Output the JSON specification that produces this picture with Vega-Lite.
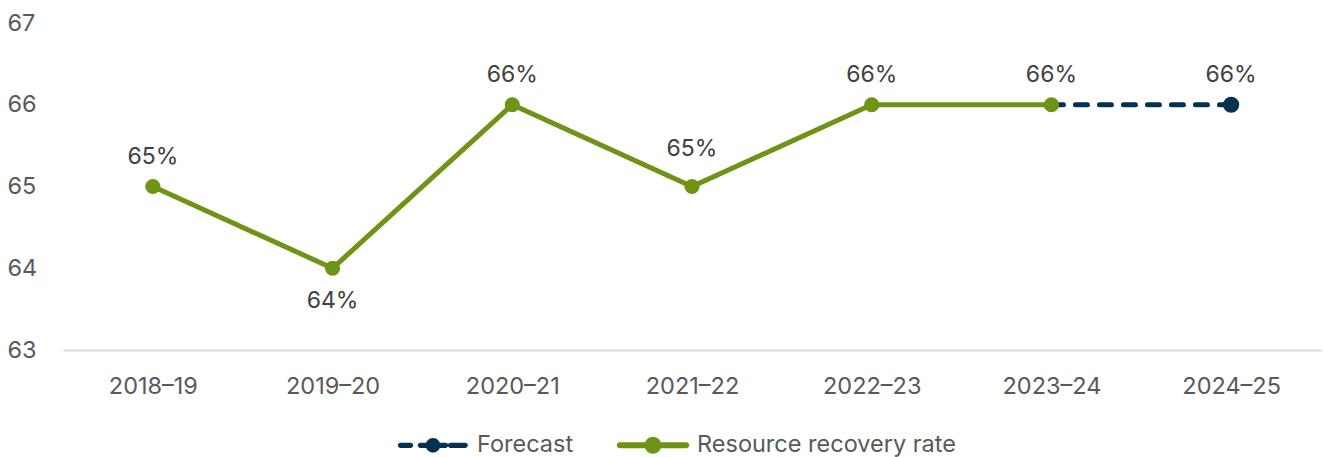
{
  "$schema": "https://vega.github.io/schema/vega-lite/v6.json",
  "width": 1258,
  "height": 327,
  "autosize": {"type": "none"},
  "padding": {"left": 63, "top": 23, "right": 2, "bottom": 107},
  "config": {
    "view": {"stroke": null},
    "font": "Inter",
    "axis": {"labelFont": "Inter", "labelColor": "#595959", "labelFontSize": 23.5}
  },
  "data": {
    "values": [
      {"year": "2018–19", "value": 65, "series": "Resource recovery rate", "label": "65%"},
      {"year": "2019–20", "value": 64, "series": "Resource recovery rate", "label": "64%"},
      {"year": "2020–21", "value": 66, "series": "Resource recovery rate", "label": "66%"},
      {"year": "2021–22", "value": 65, "series": "Resource recovery rate", "label": "65%"},
      {"year": "2022–23", "value": 66, "series": "Resource recovery rate", "label": "66%"},
      {"year": "2023–24", "value": 66, "series": "Resource recovery rate", "label": "66%"},
      {"year": "2023–24", "value": 66, "series": "Forecast", "label": ""},
      {"year": "2024–25", "value": 66, "series": "Forecast", "label": "66%"}
    ]
  },
  "encoding": {
    "x": {
      "field": "year", "type": "nominal",
      "sort": ["2018–19", "2019–20", "2020–21", "2021–22", "2022–23", "2023–24", "2024–25"],
      "scale": {"type": "point", "padding": 0.5},
      "axis": {"title": null, "labelAngle": 0, "ticks": false, "domain": true, "domainColor": "#d9d9d9", "domainWidth": 2, "labelPadding": 24, "grid": false}
    },
    "y": {
      "field": "value", "type": "quantitative",
      "scale": {"domain": [63, 67], "zero": false, "nice": false},
      "axis": {"title": null, "values": [63, 64, 65, 66, 67], "grid": false, "domain": false, "ticks": false, "labelAlign": "left", "labelPadding": 56}
    }
  },
  "layer": [
    {
      "transform": [{"filter": "datum.series === 'Forecast'"}],
      "mark": {"type": "line", "strokeWidth": 5, "strokeDash": [12, 12], "strokeCap": "round"},
      "encoding": {
        "color": {
          "field": "series", "type": "nominal",
          "scale": {"domain": ["Forecast", "Resource recovery rate"], "range": ["#04324f", "#6f9315"]},
          "legend": {
            "title": null, "orient": "none", "direction": "horizontal",
            "legendX": 335, "legendY": 387,
            "symbolSize": 4900, "symbolStrokeWidth": 0,
            "labelFontSize": 23.5, "labelColor": "#595959", "labelFont": "Inter", "labelLimit": 500,
            "labelOffset": 9, "columnPadding": 42,
            "encode": {
              "symbols": {
                "update": {
                  "shape": {"signal": "datum.value === 'Forecast' ? 'M-0.93,-0.075H-0.64A0.075,0.075 0 0 1 -0.64,0.075H-0.93A0.075,0.075 0 0 1 -0.93,-0.075Z M-0.36,-0.075H-0.19V0.075H-0.36A0.075,0.075 0 0 1 -0.36,-0.075Z M0.19,-0.075H0.36A0.075,0.075 0 0 1 0.36,0.075H0.19Z M-0.21,0A0.21,0.21 0 1 1 0.21,0A0.21,0.21 0 1 1 -0.21,0Z M0.5,-0.075H0.92A0.075,0.075 0 0 1 0.92,0.075H0.5A0.075,0.075 0 0 1 0.5,-0.075Z' : 'M-0.95,-0.085H0.95A0.085,0.085 0 0 1 0.95,0.085H-0.95A0.085,0.085 0 0 1 -0.95,-0.085Z M-0.24,0A0.24,0.24 0 1 1 0.24,0A0.24,0.24 0 1 1 -0.24,0Z'"},
                  "fill": {"scale": "color", "field": "value"},
                  "stroke": {"value": "transparent"},
                  "opacity": {"value": 1}
                }
              }
            }
          }
        }
      }
    },
    {
      "transform": [{"filter": "datum.series === 'Forecast' && datum.label !== ''"}],
      "mark": {"type": "point", "filled": true, "size": 260, "opacity": 1},
      "encoding": {"color": {"field": "series", "type": "nominal"}}
    },
    {
      "transform": [{"filter": "datum.series === 'Resource recovery rate'"}],
      "mark": {"type": "line", "strokeWidth": 5},
      "encoding": {"color": {"field": "series", "type": "nominal"}}
    },
    {
      "transform": [{"filter": "datum.series === 'Resource recovery rate'"}],
      "mark": {"type": "point", "filled": true, "size": 230, "opacity": 1},
      "encoding": {"color": {"field": "series", "type": "nominal"}}
    },
    {
      "transform": [{"filter": "datum.label !== '' && datum.value !== 64 && datum.year !== '2021–22'"}],
      "mark": {"type": "text", "dy": -30, "fontSize": 23, "font": "Inter"},
      "encoding": {"text": {"field": "label", "type": "nominal"}, "color": {"value": "#404040"}}
    },
    {
      "transform": [{"filter": "datum.year === '2021–22'"}],
      "mark": {"type": "text", "dy": -38, "fontSize": 23, "font": "Inter"},
      "encoding": {"text": {"field": "label", "type": "nominal"}, "color": {"value": "#404040"}}
    },
    {
      "transform": [{"filter": "datum.value === 64"}],
      "mark": {"type": "text", "dy": 33, "fontSize": 23, "font": "Inter"},
      "encoding": {"text": {"field": "label", "type": "nominal"}, "color": {"value": "#404040"}}
    }
  ]
}
